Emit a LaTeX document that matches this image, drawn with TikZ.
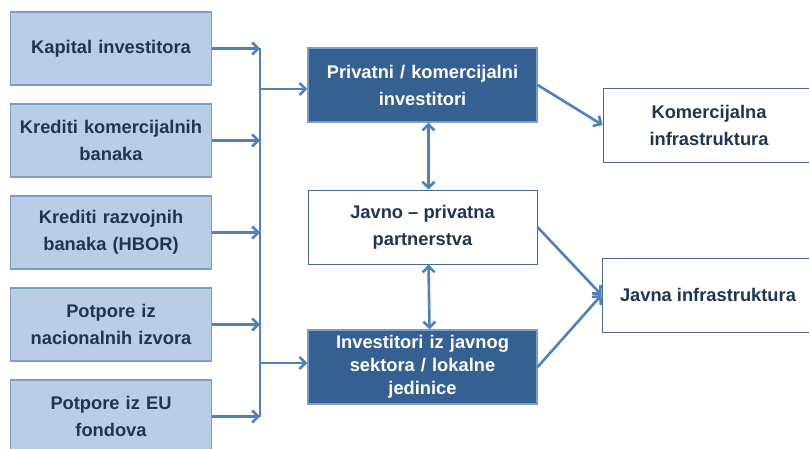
\documentclass[tikz,border=0pt]{standalone}
\usepackage{fontspec}
\setmainfont{Liberation Sans}
\usetikzlibrary{positioning}
\usetikzlibrary{arrows.meta}
\definecolor{lightfill}{HTML}{B9CDE5}
\definecolor{lightedge}{HTML}{7A9CCB}
\definecolor{darkfill}{HTML}{366092}
\definecolor{lineblue}{HTML}{4F81BD}
\definecolor{textnavy}{HTML}{1F3550}
\definecolor{boxedge}{HTML}{4A6A92}
\tikzset {
  % boxes on the left: where the money comes from
  source/.style = {draw=lightedge, fill=lightfill, line width=1.2pt,
    minimum width=200pt, minimum height=73pt, text width=194pt, align=center,
    text=textnavy, font=\fontsize{18.3}{27}\selectfont\bfseries},
  % investors, filled dark
  investor/.style = {draw=lightedge, fill=darkfill, line width=1.2pt,
    minimum width=229pt, minimum height=74pt, text width=220pt, align=center,
    text=white, font=\fontsize{18.3}{27}\selectfont\bfseries},
  % plain white boxes
  plain/.style = {draw=boxedge, fill=white, line width=0.9pt,
    minimum height=74pt, align=center,
    text=textnavy, font=\fontsize{18.3}{27}\selectfont\bfseries},
  arr/.style = {draw=lineblue, line width=2.6pt, -{Straight Barb[length=6pt,width=12pt]}},
  twoway/.style = {draw=lineblue, line width=2.6pt,
    {Straight Barb[length=6pt,width=12pt]}-{Straight Barb[length=6pt,width=12pt]}},
  busline/.style = {draw=lineblue, line width=2.6pt},
}

\begin{document}
\begin{tikzpicture}[x=1pt, y=-1pt]
        \useasboundingbox (0,0) rectangle (809,449);
        \clip (0,0) rectangle (809,449);

        \node[source] (src1) at (111,48.5) {Kapital investitora};
        \node[source, node distance=92pt] (src2) [below of=src1] {Krediti komercijalnih\\banaka};
        \node[source, node distance=92pt] (src3) [below of=src2] {Krediti razvojnih\\banaka (HBOR)};
        \node[source, node distance=92pt] (src4) [below of=src3] {Potpore iz\\nacionalnih izvora};
        \node[source, node distance=92pt] (src5) [below of=src4] {Potpore iz EU\\fondova};

        \node[investor] (priv) at (422.5,85) {Privatni / komercijalni\\investitori};
        \node[plain, minimum width=229pt, node distance=142pt] (jpp) [below of=priv] {Javno -- privatna\\partnerstva};
        \node[investor, font=\fontsize{18.3}{23}\selectfont\bfseries, node distance=140pt] (javni) [below of=jpp] {Investitori iz javnog\\sektora / lokalne\\jedinice};

        \node[plain, minimum width=212pt] (kominf) at (709,125) {Komercijalna\\infrastruktura};
        \node[plain, minimum width=212pt] (javinf) at (708,295) {Javna infrastruktura};

        \coordinate (bus) at (260,0);
        \draw [arr] (src1.east) -- (src1.east -| bus);
        \draw [arr] (src2.east) -- (src2.east -| bus);
        \draw [arr] (src3.east) -- (src3.east -| bus);
        \draw [arr] (src4.east) -- (src4.east -| bus);
        \draw [arr] (src5.east) -- (src5.east -| bus);
        \draw [busline] (src1.east -| bus) -- (src5.east -| bus);
        \draw [arr] ([yshift=-4pt]priv.west -| bus) -- ([yshift=-4pt]priv.west);
        \draw [arr] ([yshift=4pt]javni.west -| bus) -- ([yshift=4pt]javni.west);

        \draw [twoway] ([xshift=6pt]priv.south) -- ([xshift=6pt]jpp.north);
        \draw [twoway] ([xshift=6pt]jpp.south) -- ([xshift=7pt]javni.north);

        \draw [arr] (priv.east) -- (kominf.west);
        \draw [arr] (jpp.east) -- (javinf.west);
        \draw [arr] (javni.east) -- (javinf.west);
      \end{tikzpicture}
\end{document}
